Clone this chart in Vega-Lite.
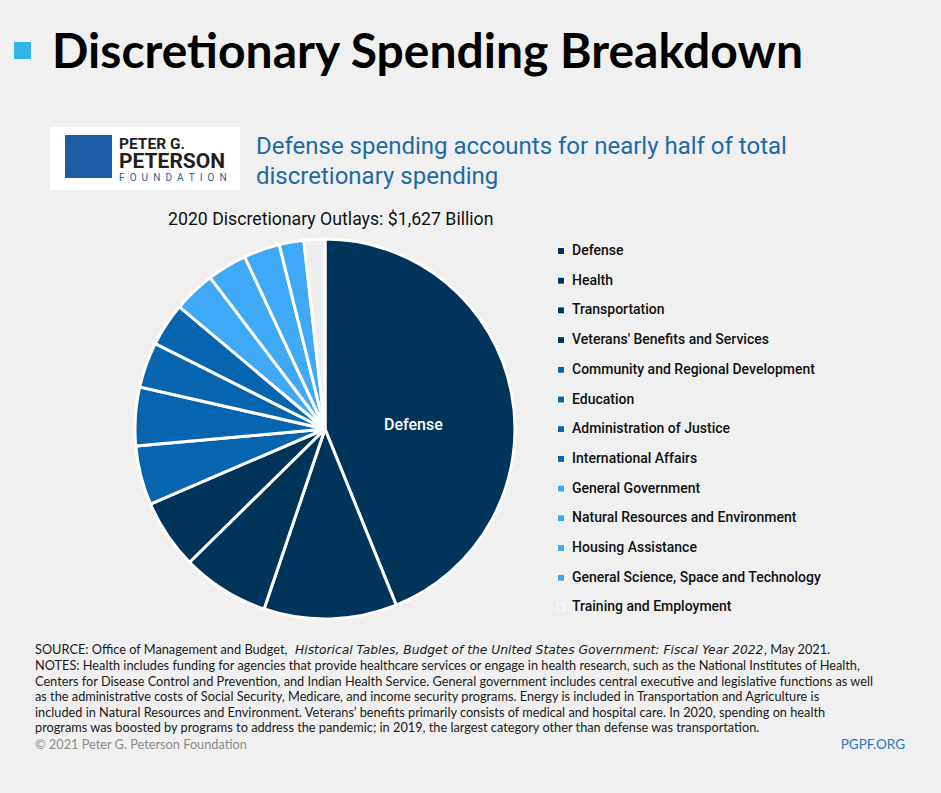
{
  "$schema": "https://vega.github.io/schema/vega-lite/v6.json",
  "background": "#f0f0f0",
  "padding": 0,
  "config": {"view": {"stroke": null}, "font": "Lato"},
  "spacing": 0,
  "resolve": {"legend": {"color": "independent"}},
  "vconcat": [
    {"width": 941, "height": 28, "data": {"values": [{}]}, "mark": {"type": "point", "opacity": 0, "size": 0}, "encoding": {}},
    {
      "spacing": 0,
      "hconcat": [
        {"width": 14, "height": 52, "data": {"values": [{}]}, "mark": {"type": "point", "opacity": 0, "size": 0}, "encoding": {}},
        {
          "spacing": 0,
          "vconcat": [
            {"width": 17, "height": 14, "data": {"values": [{}]}, "mark": {"type": "point", "opacity": 0, "size": 0}, "encoding": {}},
            {"width": 17, "height": 17, "data": {"values": [{}]}, "mark": {"type": "point", "opacity": 0, "size": 0}, "encoding": {}, "view": {"fill": "#33b5e5", "stroke": null}},
            {"width": 17, "height": 21, "data": {"values": [{}]}, "mark": {"type": "point", "opacity": 0, "size": 0}, "encoding": {}}
          ]
        },
        {"width": 21, "height": 52, "data": {"values": [{}]}, "mark": {"type": "point", "opacity": 0, "size": 0}, "encoding": {}},
        {"width": 780, "height": 52, "data": {"values": [{}]},
         "mark": {"type": "text", "align": "left", "baseline": "alphabetic", "dx": -391, "dy": 14, "fontSize": 48, "fontWeight": "bold", "font": "Lato", "color": "#000000"},
         "encoding": {"text": {"value": "Discretionary Spending Breakdown"}}}
      ]
    },
    {"width": 1, "height": 47, "data": {"values": [{}]}, "mark": {"type": "point", "opacity": 0, "size": 0}, "encoding": {}},
    {
      "spacing": 0,
      "hconcat": [
        {"width": 50, "height": 63, "data": {"values": [{}]}, "mark": {"type": "point", "opacity": 0, "size": 0}, "encoding": {}},
        {"width": 15, "height": 63, "data": {"values": [{}]}, "mark": {"type": "point", "opacity": 0, "size": 0}, "encoding": {}, "view": {"fill": "#ffffff", "stroke": null}},
        {
          "spacing": 0,
          "vconcat": [
            {"width": 47, "height": 8, "data": {"values": [{}]}, "mark": {"type": "point", "opacity": 0, "size": 0}, "encoding": {}, "view": {"fill": "#ffffff", "stroke": null}},
            {"width": 47, "height": 43, "data": {"values": [{}]}, "mark": {"type": "point", "opacity": 0, "size": 0}, "encoding": {}, "view": {"fill": "#1b5ea6", "stroke": null}},
            {"width": 47, "height": 12, "data": {"values": [{}]}, "mark": {"type": "point", "opacity": 0, "size": 0}, "encoding": {}, "view": {"fill": "#ffffff", "stroke": null}}
          ]
        },
        {"width": 128, "height": 63, "data": {"values": [{}]}, "view": {"fill": "#ffffff", "stroke": null},
         "layer": [
           {"mark": {"type": "text", "align": "left", "baseline": "alphabetic", "dx": -57, "dy": -10, "fontSize": 15.5, "fontWeight": "bold", "font": "Roboto", "color": "#231f20"}, "encoding": {"text": {"value": "PETER G."}}},
           {"mark": {"type": "text", "align": "left", "baseline": "alphabetic", "dx": -57, "dy": 9, "fontSize": 21, "fontWeight": "bold", "font": "Roboto", "color": "#231f20"}, "encoding": {"text": {"value": "PETERSON"}}},
           {"mark": {"type": "text", "align": "left", "baseline": "alphabetic", "dx": -57, "dy": 22, "fontSize": 10, "font": "Roboto", "color": "#1e5fa8"}, "encoding": {"text": {"value": "F\u2002O\u2002U\u2002N\u2002D\u2002A\u2002T\u2002I\u2002O\u2002N"}}}
         ]},
        {"width": 14, "height": 63, "data": {"values": [{}]}, "mark": {"type": "point", "opacity": 0, "size": 0}, "encoding": {}},
        {"width": 560, "height": 63, "data": {"values": [{}]},
         "mark": {"type": "text", "align": "left", "baseline": "alphabetic", "dx": -278, "dy": -4.5, "fontSize": 24, "lineHeight": 30, "font": "Roboto", "color": "#1f6aa5"},
         "encoding": {"text": {"value": ["Defense spending accounts for nearly half of total", "discretionary spending"]}}}
      ]
    },
    {
      "spacing": 0,
      "hconcat": [
        {"width": 168, "height": 39, "data": {"values": [{}]}, "mark": {"type": "point", "opacity": 0, "size": 0}, "encoding": {}},
        {"width": 400, "height": 39, "data": {"values": [{}]},
         "mark": {"type": "text", "align": "left", "baseline": "alphabetic", "dx": -200, "dy": 15, "fontSize": 17.7, "font": "Roboto", "color": "#111111"},
         "encoding": {"text": {"value": "2020 Discretionary Outlays: $1,627 Billion"}}}
      ]
    },
    {
      "spacing": 0,
      "resolve": {"legend": {"color": "independent"}},
      "hconcat": [
        {"width": 125, "height": 400, "data": {"values": [{}]}, "mark": {"type": "point", "opacity": 0, "size": 0}, "encoding": {}},
        {
          "width": 400, "height": 400,
          "data": {"values": [
            {"category": "Defense", "outlays": 714},
            {"category": "Health", "outlays": 184},
            {"category": "Transportation", "outlays": 121},
            {"category": "Veterans' Benefits and Services", "outlays": 96},
            {"category": "Community and Regional Development", "outlays": 82},
            {"category": "Education", "outlays": 81},
            {"category": "Administration of Justice", "outlays": 63},
            {"category": "International Affairs", "outlays": 60},
            {"category": "General Government", "outlays": 58},
            {"category": "Natural Resources and Environment", "outlays": 55},
            {"category": "Housing Assistance", "outlays": 50},
            {"category": "General Science, Space and Technology", "outlays": 34},
            {"category": "Training and Employment", "outlays": 29}
          ]},
          "layer": [
            {
              "mark": {"type": "arc", "outerRadius": 190, "stroke": "#ffffff", "strokeWidth": 3},
              "encoding": {
                "theta": {"field": "outlays", "type": "quantitative", "stack": true},
                "order": {"field": "outlays", "type": "quantitative", "sort": "descending"},
                "color": {
                  "field": "category", "type": "nominal",
                  "scale": {
                    "domain": ["Defense", "Health", "Transportation", "Veterans' Benefits and Services", "Community and Regional Development", "Education", "Administration of Justice", "International Affairs", "General Government", "Natural Resources and Environment", "Housing Assistance", "General Science, Space and Technology", "Training and Employment"],
                    "range": ["#00345b", "#00345b", "#00345b", "#00345b", "#0764ae", "#0764ae", "#0764ae", "#0764ae", "#3fa9f5", "#3fa9f5", "#3fa9f5", "#3fa9f5", "#eeeeee"]
                  },
                  "legend": {
                    "title": null, "orient": "none", "legendX": 429, "legendY": 15, "padding": 0, "rowPadding": 15.7,
                    "symbolType": "square", "symbolSize": 49, "symbolStrokeColor": "#ffffff", "symbolStrokeWidth": 1,
                    "labelFontSize": 14, "labelFont": "Roboto", "labelFontWeight": 500, "labelColor": "#111111", "labelOffset": 4, "labelLimit": 400
                  }
                }
              }
            },
            {
              "mark": {"type": "text", "radius": 90, "dy": 13, "color": "#ffffff", "fontSize": 16, "font": "Roboto", "fontWeight": 500},
              "encoding": {
                "theta": {"field": "outlays", "type": "quantitative", "stack": true},
                "order": {"field": "outlays", "type": "quantitative", "sort": "descending"},
                "text": {"condition": {"test": "datum.category === 'Defense'", "field": "category"}, "value": ""}
              }
            }
          ]
        }
      ]
    },
    {"width": 1, "height": 11, "data": {"values": [{}]}, "mark": {"type": "point", "opacity": 0, "size": 0}, "encoding": {}},
    {
      "spacing": 0,
      "hconcat": [
        {"width": 35, "height": 120, "data": {"values": [{}]}, "mark": {"type": "point", "opacity": 0, "size": 0}, "encoding": {}},
        {"width": 870, "height": 120, "data": {"values": [{}]},
         "layer": [
           {"mark": {"type": "text", "align": "left", "baseline": "alphabetic", "dx": -435, "dy": -46, "fontSize": 12.75, "font": "Lato", "color": "#1a1a1a"}, "encoding": {"text": {"value": "SOURCE: Office of Management and Budget,"}}},
           {"mark": {"type": "text", "align": "left", "baseline": "alphabetic", "dx": -175, "dy": -46, "fontSize": 12.3, "font": "DejaVu Sans", "fontStyle": "italic", "color": "#1a1a1a"}, "encoding": {"text": {"value": "Historical Tables, Budget of the United States Government: Fiscal Year 2022"}}},
           {"mark": {"type": "text", "align": "left", "baseline": "alphabetic", "dx": 294, "dy": -46, "fontSize": 12.75, "font": "Lato", "color": "#1a1a1a"}, "encoding": {"text": {"value": ", May 2021."}}},
           {"mark": {"type": "text", "align": "left", "baseline": "alphabetic", "dx": -435, "dy": -30, "fontSize": 12.75, "lineHeight": 15.6, "font": "Lato", "color": "#1a1a1a"},
            "encoding": {"text": {"value": [
              "NOTES: Health includes funding for agencies that provide healthcare services or engage in health research, such as the National Institutes of Health,",
              "Centers for Disease Control and Prevention, and Indian Health Service. General government includes central executive and legislative functions as well",
              "as the administrative costs of Social Security, Medicare, and income security programs. Energy is included in Transportation and Agriculture is",
              "included in Natural Resources and Environment. Veterans’ benefits primarily consists of medical and hospital care. In 2020, spending on health",
              "programs was boosted by programs to address the pandemic; in 2019, the largest category other than defense was transportation."
            ]}}},
           {"mark": {"type": "text", "align": "left", "baseline": "alphabetic", "dx": -435, "dy": 49, "fontSize": 12.75, "font": "Lato", "color": "#8a8a8a"}, "encoding": {"text": {"value": "© 2021 Peter G. Peterson Foundation"}}},
           {"mark": {"type": "text", "align": "right", "baseline": "alphabetic", "dx": 435, "dy": 49, "fontSize": 13.5, "font": "Lato", "color": "#2a78bd"}, "encoding": {"text": {"value": "PGPF.ORG"}}}
         ]}
      ]
    },
    {"width": 1, "height": 33, "data": {"values": [{}]}, "mark": {"type": "point", "opacity": 0, "size": 0}, "encoding": {}}
  ]
}
